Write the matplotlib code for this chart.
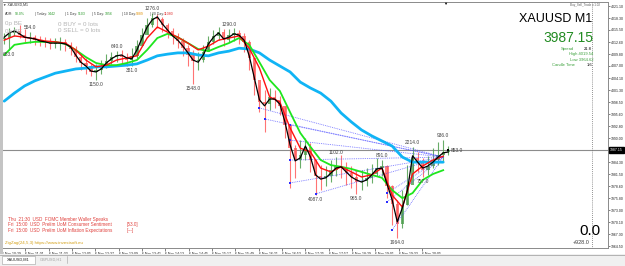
import numpy as np
import matplotlib
matplotlib.use("Agg")
import matplotlib.pyplot as plt
from matplotlib.patches import Rectangle
from matplotlib.lines import Line2D

plt.rcParams['font.family'] = ['Liberation Sans', 'DejaVu Sans']

W, H = 625, 266

# XAUUSD M1, one candle per 7 minutes, minutes counted from 6 Nov 10:29
bar_step = 7
first_bar = 3
first_open = 4013.4

closes = [4013.6, 4014.8, 4015.3, 4014.3, 4013.6, 4013.8, 4013.1, 4012.9, 4012.7, 4012.2,
          4012.4, 4012.7, 4012.0, 4011.0, 4009.1, 4007.7, 4007.0, 4005.6, 4006.1, 4007.0,
          4008.2, 4009.1, 4009.6, 4009.1, 4008.4, 4009.4, 4011.7, 4014.3, 4016.7, 4018.3,
          4018.1, 4016.7, 4015.3, 4014.1, 4012.9, 4011.2, 4009.6, 4008.2, 4008.4, 4010.3,
          4012.7, 4014.1, 4015.0, 4013.1, 4014.3, 4014.8, 4014.1, 4012.7, 4008.9, 4003.7,
          3998.5, 3998.0, 3999.7, 3999.0, 3997.6, 3993.1, 3987.6, 3984.8, 3986.0, 3987.9,
          3984.8, 3981.0, 3980.6, 3981.0, 3982.4, 3983.4, 3982.9, 3981.7, 3980.8, 3979.6,
          3979.8, 3980.6, 3981.5, 3982.9, 3983.4, 3978.7, 3974.4, 3969.7, 3974.2, 3978.9,
          3985.3, 3984.1, 3982.4, 3983.4, 3984.8, 3986.0, 3986.7, 3987.15]
highs = [4014.8, 4016.0, 4016.2, 4016.7, 4015.7, 4015.0, 4014.3, 4014.1, 4013.8, 4013.6,
         4013.6, 4013.8, 4013.4, 4012.7, 4011.7, 4009.8, 4008.9, 4007.5, 4007.5, 4008.4,
         4009.8, 4010.3, 4010.5, 4010.8, 4010.1, 4011.2, 4013.1, 4016.0, 4018.3, 4019.5,
         4019.3, 4018.6, 4017.1, 4016.0, 4014.8, 4013.6, 4012.0, 4010.8, 4010.3, 4012.0,
         4014.1, 4015.5, 4016.2, 4015.7, 4015.7, 4016.0, 4015.5, 4014.8, 4013.1, 4007.9,
         4002.5, 4001.3, 4001.8, 4001.3, 3999.9, 3997.6, 3992.4, 3988.4, 3989.5, 3990.0,
         3988.8, 3984.8, 3983.6, 3983.4, 3984.8, 3985.5, 3986.0, 3984.3, 3983.4, 3982.4,
         3982.4, 3982.9, 3983.9, 3985.3, 3984.8, 3983.6, 3978.9, 3975.4, 3977.7, 3983.6,
         3987.9, 3986.7, 3985.3, 3985.7, 3987.6, 3989.0, 3989.5, 3988.1]
lows = [4012.2, 4010.8, 4014.1, 4013.6, 4012.7, 4012.4, 4012.0, 4011.7, 4011.5, 4011.0,
        4011.2, 4010.8, 4010.5, 4009.6, 4007.9, 4006.1, 4005.1, 4004.6, 4003.7, 4005.1,
        4006.5, 4007.5, 4007.9, 4007.7, 4007.0, 4007.0, 4008.9, 4012.0, 4014.6, 4016.2,
        4016.0, 4015.0, 4013.6, 4012.2, 4011.2, 4009.4, 4007.0, 4002.8, 4006.1, 4007.9,
        4010.8, 4012.2, 4013.1, 4011.7, 4012.7, 4012.9, 4012.2, 4010.3, 4006.1, 4000.2,
        3996.1, 3991.4, 3996.6, 3997.1, 3995.4, 3990.0, 3978.2, 3980.6, 3982.9, 3984.8,
        3982.0, 3976.5, 3977.7, 3978.7, 3979.6, 3981.0, 3980.6, 3978.9, 3978.2, 3976.8,
        3977.7, 3978.7, 3979.4, 3981.0, 3981.0, 3975.8, 3969.5, 3966.4, 3968.8, 3974.2,
        3982.0, 3982.0, 3980.8, 3981.3, 3982.9, 3983.6, 3984.3, 3986.0]

# moving averages: black on every candle, the others on every second candle
black_ma = [4013.8, 4014.8, 4015.3, 4014.6, 4013.8, 4013.6, 4013.4, 4012.9, 4012.7, 4012.4,
            4012.4, 4012.4, 4012.2, 4011.5, 4009.6, 4007.9, 4007.0, 4005.8, 4005.6, 4006.3,
            4007.7, 4008.7, 4009.4, 4009.6, 4008.9, 4008.7, 4010.8, 4013.6, 4016.2, 4017.9,
            4018.6, 4016.9, 4015.5, 4014.1, 4013.1, 4011.7, 4010.1, 4008.4, 4007.9, 4009.6,
            4012.2, 4013.8, 4014.8, 4013.4, 4013.8, 4014.6, 4014.3, 4013.1, 4009.4, 4004.2,
            3999.0, 3997.6, 3999.2, 3999.2, 3998.0, 3993.8, 3988.4, 3984.6, 3985.3, 3988.1,
            3985.5, 3981.3, 3980.3, 3980.6, 3981.7, 3982.9, 3983.2, 3982.0, 3980.8, 3980.1,
            3979.6, 3980.1, 3981.3, 3982.7, 3982.9, 3979.1, 3975.4, 3970.2, 3973.5, 3977.7,
            3985.8, 3984.3, 3982.9, 3983.4, 3984.3, 3985.5, 3986.5, 3986.7]
red_ma = [4013.1, 4014.1, 4013.8, 4013.4, 4012.9, 4012.7, 4012.4, 4010.8, 4008.4, 4006.8,
          4007.2, 4008.4, 4008.9, 4009.4, 4013.6, 4016.2, 4015.0, 4013.8, 4012.4, 4010.8,
          4011.7, 4013.1, 4013.6, 4014.1, 4011.2, 4006.5, 3999.7, 3998.5, 3992.4, 3987.6,
          3986.7, 3982.9, 3982.0, 3983.2, 3982.0, 3980.8, 3981.3, 3982.9, 3976.5, 3973.7,
          3981.5, 3983.4, 3984.8, 3985.7]
green_ma = [4009.6, 4012.0, 4012.4, 4012.7, 4012.7, 4012.7, 4012.2, 4010.8, 4009.1, 4007.7,
            4007.2, 4007.2, 4007.7, 4008.4, 4010.8, 4013.6, 4014.6, 4013.8, 4012.4, 4011.0,
            4010.5, 4011.5, 4012.4, 4013.6, 4012.0, 4007.9, 4003.7, 4001.1, 3996.1, 3991.2,
            3987.9, 3984.8, 3983.6, 3983.2, 3982.7, 3982.0, 3981.3, 3980.6, 3977.7, 3975.8,
            3977.0, 3980.1, 3981.5, 3982.4]
blue_ma = [3998.7, 4000.6, 4002.3, 4003.5, 4004.4, 4005.3, 4005.8, 4006.3, 4006.5, 4006.8,
           4006.8, 4007.0, 4007.2, 4007.5, 4008.4, 4009.4, 4009.8, 4010.1, 4010.1, 4009.6,
           4009.4, 4010.1, 4010.5, 4011.2, 4011.0, 4010.1, 4008.4, 4007.0, 4005.6, 4003.2,
           4001.8, 4000.6, 3998.7, 3995.9, 3993.8, 3991.9, 3990.5, 3989.3, 3988.1, 3985.5,
           3984.3, 3984.3, 3984.3, 3984.3]

# zigzag swing labels
zz_bars = [1, 5, 18, 22, 25, 29, 37, 44, 61, 65, 69, 74, 77, 80, 82, 86]
zz_kind = ['L', 'H', 'L', 'H', 'L', 'H', 'L', 'H', 'L', 'H', 'L', 'H', 'L', 'H', 'L', 'H']
zz_text = ['653.0', '554.0', '1150.0', '640.0', '381.0', '1276.0', '1548.0', '1290.0',
           '4087.0', '1102.0', '965.0', '891.0', '1964.0', '2214.0', '757.0', '936.0']
zz_last = '853.0'

# fan lines from signal points to the current swing
fan_bars = [50, 51, 56, 56, 56, 56, 61, 75, 75, 76]
fan_prices = [3997.1, 3994.5, 3993.1, 3989.5, 3984.8, 3979.4, 3976.8, 3977.0, 3974.9, 3968.3]
fan_target_bar = 86
fan_target_price = 3985.5

bid = 3987.15
time_ticks = [32 * k for k in range(19)]
time_labels = ['6 Nov 10:29', '6 Nov 11:01', '6 Nov 11:33', '6 Nov 12:05', '6 Nov 12:37',
               '6 Nov 13:09', '6 Nov 13:41', '6 Nov 14:13', '6 Nov 14:45', '6 Nov 15:17',
               '6 Nov 15:49', '6 Nov 16:21', '6 Nov 16:53', '6 Nov 17:25', '6 Nov 17:57',
               '6 Nov 18:29', '6 Nov 19:01', '6 Nov 19:33', '6 Nov 20:05']
price_ticks = [4021.10, 4018.30, 4015.50, 4012.60, 4009.80, 4007.00, 4004.10, 4001.30,
               3998.50, 3995.60, 3992.80, 3990.00, 3984.30, 3981.50, 3978.60, 3975.80,
               3973.00, 3970.10, 3967.30, 3964.50]

events = [('Thu  21:30  USD  FOMC Member Waller Speaks', ''),
          ('Fri  15:00  USD  Prelim UoM Consumer Sentiment', '[53.0]'),
          ('Fri  15:00  USD  Prelim UoM Inflation Expectations', '[---]')]


def fx(x):
    return x / W


def fy(y):
    return 1 - y / H


fig = plt.figure(figsize=(W / 100, H / 100), dpi=100)
fig.patch.set_facecolor('white')
ax = fig.add_axes([fx(1), fy(248), fx(608) - fx(1), fy(2) - fy(248)])
ax.set_xlim(-1.4, 831.0)
ax.set_ylim(3964.03, 4022.11)

t = first_bar + bar_step * np.arange(len(closes))
t2 = t[::2]
opens = np.array([first_open] + closes[:-1])
c = np.array(closes)
up = c >= opens

# candles
for col, mask in (('#4f9f4f', up), ('#ff5c5c', ~up)):
    ax.vlines(t[mask], np.array(lows)[mask], np.array(highs)[mask], color=col, lw=0.8, alpha=0.85, zorder=1)
    ax.bar(t[mask], (c - opens)[mask], bottom=opens[mask], width=4.5, color=col, alpha=0.8,
           linewidth=0, zorder=1)

# bid line
ax.axhline(bid, color='#8c8c8c', lw=0.8, zorder=0.5)

# fan
for b, p in zip(fan_bars, fan_prices):
    ax.plot([t[b], t[fan_target_bar]], [p, fan_target_price], color='#4b4bff', lw=0.6,
            ls=(0, (1, 1.2)), alpha=0.85, zorder=2)
ax.scatter(t[fan_bars], fan_prices, s=3, marker='s', color='#2a2aff', zorder=3, linewidths=0)

ax.plot(t2, blue_ma, color='#10b4f5', lw=2.0, zorder=3, solid_capstyle='round')
ax.plot(t2, green_ma, color='#1ee61e', lw=1.3, zorder=4)
ax.plot(t2, red_ma, color='#ff1010', lw=1.0, zorder=5)
ax.plot(t, black_ma, color='black', lw=0.9, zorder=6)

for b, k, s in zip(zz_bars, zz_kind, zz_text):
    if k == 'H':
        ax.annotate(s, (t[b], highs[b]), xytext=(0, 1.5), textcoords='offset points',
                    ha='center', va='bottom', fontsize=3.5, color='#404040', zorder=7)
    else:
        ax.annotate(s, (t[b], lows[b]), xytext=(0, -1.5), textcoords='offset points',
                    ha='center', va='top', fontsize=3.5, color='#404040', zorder=7)
ax.scatter([t[-1]], [closes[-1]], s=4, marker='s', color='black', zorder=7, linewidths=0)
ax.annotate(zz_last, (t[-1], closes[-1]), xytext=(1.5, 0), textcoords='offset points',
            ha='left', va='center', fontsize=3.5, color='#404040', zorder=7)

# axes styling
for side in ('left', 'bottom', 'right', 'top'):
    ax.spines[side].set_color('#8a8a8a')
    ax.spines[side].set_linewidth(0.7)
ax.yaxis.tick_right()
ax.set_yticks(price_ticks)
ax.set_yticklabels(['%.2f' % p for p in price_ticks])
ax.tick_params(axis='y', length=1.5, width=0.4, pad=0.8, labelsize=2.5, colors='#202020')
ax.set_xticks(time_ticks)
ax.set_xticklabels(time_labels, ha='left')
ax.tick_params(axis='x', length=2, width=0.4, pad=0.8, labelsize=2.5, colors='#202020')

ax.annotate('%.2f' % bid, xy=(1.0, bid), xycoords=('axes fraction', 'data'), xytext=(1.5, 0),
            textcoords='offset points', ha='left', va='center', fontsize=2.5, color='white',
            bbox=dict(boxstyle='square,pad=0.25', fc='black', ec='black'), annotation_clip=False)

# dotted marker line on the right
fig.add_artist(Line2D([fx(591.7), fx(591.7)], [fy(2), fy(248)], color='#707070', lw=0.6, ls=(0, (1, 1.5))))

# frame decorations
fig.add_artist(Rectangle((0, fy(254)), fx(2.5), fy(0) - fy(254), facecolor='#c4c4c4', edgecolor='none'))
fig.add_artist(Rectangle((0, 0), 1, fy(254), facecolor='#f0f0f0', edgecolor='none'))
fig.add_artist(Line2D([0, 1], [fy(254.5), fy(254.5)], color='#a8a8a8', lw=0.6))
fig.add_artist(Rectangle((fx(2), fy(264)), fx(33), fy(255.5) - fy(264), facecolor='white',
                         edgecolor='#a0a0a0', lw=0.4))
fig.text(fx(7), fy(259.8), 'XAUUSD,M1', fontsize=2.8, color='#202020', va='center')
fig.text(fx(40), fy(259.8), 'GBPUSD,H1', fontsize=2.8, color='#a0a0a0', va='center')
fig.add_artist(Line2D([fx(67), fx(67)], [fy(256), fy(263)], color='#a0a0a0', lw=0.4))

# top-left info
fig.text(fx(3), fy(4.5), '\u25bc XAUUSD,M1', fontsize=2.5, color='#303030', va='center')
fig.text(fx(445), fy(3.5), '\u25bc', fontsize=3, color='black', va='center', ha='center')
adr_parts = [(5, 'ADR:', '#404040'), (15, '90.0%', '#2a9a2a'),
             (35, '| Today:', '#404040'), (48, '1442', '#2a9a2a'),
             (65, '| 1 Day:', '#404040'), (78, '9103', '#2a9a2a'),
             (92, '| 5 Day:', '#404040'), (105, '1856', '#2a9a2a'),
             (122, '| 10 Day:', '#404040'), (136, '9089', '#e09000'),
             (150, '| 20 Day:', '#404040'), (164, '11080', '#e03030')]
for x, s, col in adr_parts:
    fig.text(fx(x), fy(14), s, fontsize=2.5, color=col, va='center')
for y, s in ((24, '0 BUY = 0 lots'), (31, '0 SELL = 0 lots')):
    fig.text(fx(5), fy(y), '0p BE', fontsize=4.5, color='#b4b4b4', va='center')
    fig.text(fx(58), fy(y), s, fontsize=4.5, color='#b4b4b4', va='center')

# right info panel
fig.text(fx(600), fy(5), 'Buy_Sell_Trade v.1.02', fontsize=2.2, color='#606060', ha='right', va='center')
fig.text(fx(592), fy(19), 'XAUUSD M1', fontsize=9, color='black', ha='right', va='center')
fig.text(fx(593), fy(38.5), '3987.15', fontsize=10, color='#228b22', ha='right', va='center')
fig.text(fx(574), fy(49), 'Spread', fontsize=3, color='#3aa03a', ha='right', va='center')
fig.text(fx(592), fy(49), '21.8', fontsize=3, color='black', ha='right', va='center')
fig.text(fx(593), fy(54.5), 'High 4019.54', fontsize=3, color='#3aa03a', ha='right', va='center')
fig.text(fx(593), fy(60), 'Low 3964.62', fontsize=3, color='#3aa03a', ha='right', va='center')
fig.text(fx(575), fy(65.5), 'Candle Time', fontsize=3, color='#3aa03a', ha='right', va='center')
fig.text(fx(592), fy(65.5), '1:6', fontsize=3, color='black', ha='right', va='center')
fig.text(fx(601), fy(231), '0.0', fontsize=11, color='black', ha='right', va='center')
fig.text(fx(590), fy(242.5), '+928.0', fontsize=4, color='#404040', ha='right', va='center')

# news and indicator text
for k, (s, val) in enumerate(events):
    fig.text(fx(8), fy(219 + 5.6 * k), s, fontsize=3.3, color='#e0403c', va='center')
    if val:
        fig.text(fx(127), fy(219 + 5.6 * k), val, fontsize=3.3, color='#e0403c', va='center')
fig.text(fx(5), fy(243), 'ZigZag(24,5,3) https://www.investsoft.eu', fontsize=3.2, color='#d4a017', va='center')

fig.savefig('out.png', dpi=100)
